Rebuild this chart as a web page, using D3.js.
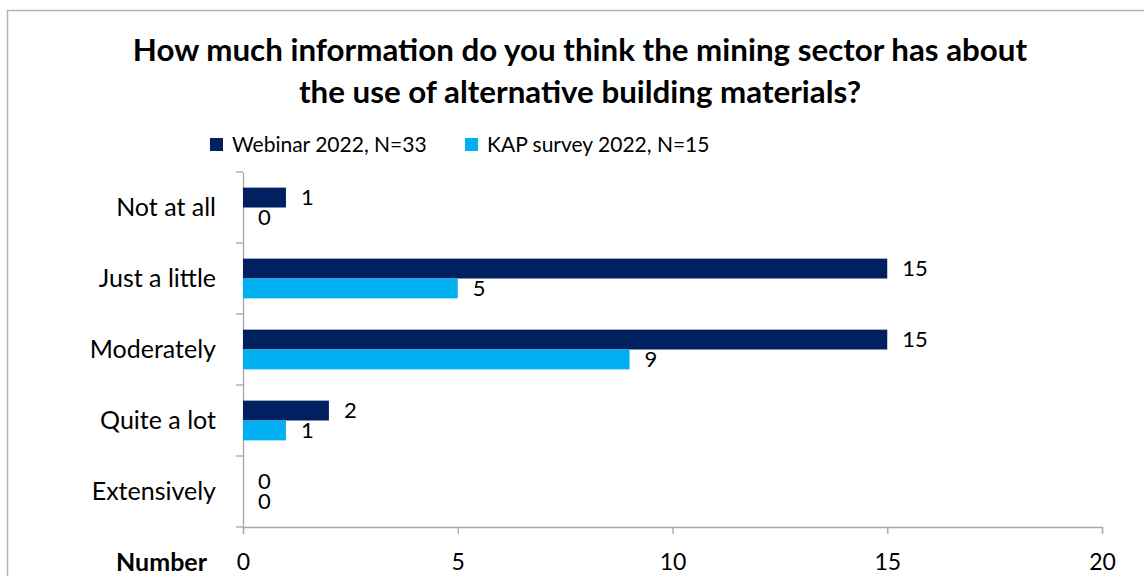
<!DOCTYPE html>
<html>
<head>
<meta charset="utf-8">
<script src="https://cdn.jsdelivr.net/npm/d3@7"></script>
<style>
  body { margin: 0; background: #fff; }
  text { font-family: Lato, "Open Sans", sans-serif; fill: #000; }
</style>
</head>
<body>
<div id="chart-area"></div>
<script>
const categories = ["Not at all", "Just a little", "Moderately", "Quite a lot", "Extensively"];
const seriesNames = ["Webinar 2022, N=33", "KAP survey 2022, N=15"];
const webinar = [1, 15, 15, 2, 0];
const kap = [0, 5, 9, 1, 0];
const xTicks = [0, 5, 10, 15, 20];
const titleLines = ["How much information do you think the mining sector has about",
                    "the use of alternative building materials?"];

const colors = ['#002060', '#00B0F0'];

const width = 1144, height = 576;
const margin = {top: 172, right: 42, bottom: 49, left: 243};

var svg = d3.select("#chart-area").append("svg")
    .attr("width", width)
    .attr("height", height);

// outer frame
svg.append("rect")
    .attr("x", 7.5).attr("y", 10.5)
    .attr("width", width + 10).attr("height", height + 10)
    .attr("fill", "none")
    .attr("stroke", "#b3b3b3")
    .attr("stroke-width", 1.5);

var title = svg.append("text")
    .attr("text-anchor", "middle")
    .attr("font-weight", "bold")
    .attr("font-size", 31.3);
title.selectAll("tspan")
    .data(titleLines)
    .enter().append("tspan")
    .attr("x", 580)
    .attr("y", (d, i) => 61 + i * 42)
    .text(d => d);

// legend
var legendX = [210, 465];
var legend = svg.selectAll(".legend")
    .data(seriesNames)
    .enter().append("g")
    .attr("class", "legend")
    .attr("transform", (d, i) => `translate(${legendX[i]},138)`);
legend.append("rect")
    .attr("width", 13).attr("height", 13)
    .attr("fill", (d, i) => colors[i]);
legend.append("text")
    .attr("x", 22).attr("y", 7)
    .attr("dy", "0.35em")
    .attr("font-size", 21)
    .text(d => d);

var g = svg.append("g")
    .attr("transform", `translate(${margin.left},${margin.top})`);

const innerW = width - margin.left - margin.right;
const innerH = height - margin.top - margin.bottom;

var x = d3.scaleLinear().domain([0, 20]).range([0, innerW]);
var y = d3.scaleBand().domain(categories).range([0, innerH]).paddingInner(0.44).paddingOuter(0.22);
var sub = d3.scaleBand().domain([0, 1]).range([0, y.bandwidth()]);

// axes
var xAxis = g.append("g")
    .attr("transform", `translate(0,${innerH})`)
    .call(d3.axisBottom(x).tickValues(xTicks).tickSize(7).tickPadding(20));
var yAxis = g.append("g")
    .call(d3.axisLeft(y).tickSize(0).tickPadding(27));

[xAxis, yAxis].forEach(a => {
    a.select(".domain").attr("stroke", "#a6a6a6").attr("stroke-width", 1.3);
    a.selectAll(".tick line").attr("stroke", "#a6a6a6").attr("stroke-width", 1.3);
    a.selectAll("text").attr("fill", "#000")
        .style("font-family", "Lato, 'Open Sans', sans-serif");
});
xAxis.selectAll("text").attr("font-size", 23);
yAxis.selectAll("text").attr("font-size", 25);

// category boundary ticks on the y axis
const step = innerH / categories.length;
g.selectAll(".ytick")
    .data(d3.range(categories.length + 1))
    .enter().append("line")
    .attr("x1", -7).attr("x2", 0)
    .attr("y1", d => d * step).attr("y2", d => d * step)
    .attr("stroke", "#a6a6a6").attr("stroke-width", 1.3);

g.append("text")
    .attr("x", -36).attr("y", innerH + 44)
    .attr("text-anchor", "end")
    .attr("font-weight", "bold")
    .attr("font-size", 25)
    .text("Number");

// bars
const series = [webinar, kap];
series.forEach((vals, s) => {
    var grp = g.append("g");
    grp.selectAll("rect")
        .data(vals)
        .enter().append("rect")
        .attr("x", 0)
        .attr("y", (d, i) => y(categories[i]) + sub(s))
        .attr("width", d => x(d))
        .attr("height", sub.bandwidth())
        .attr("fill", colors[s]);
    grp.selectAll("text")
        .data(vals)
        .enter().append("text")
        .attr("x", d => x(d) + 15)
        .attr("y", (d, i) => y(categories[i]) + sub(s) + sub.bandwidth() / 2)
        .attr("dy", "0.35em")
        .attr("font-size", 22)
        .text(d => d);
});
</script>
</body>
</html>
